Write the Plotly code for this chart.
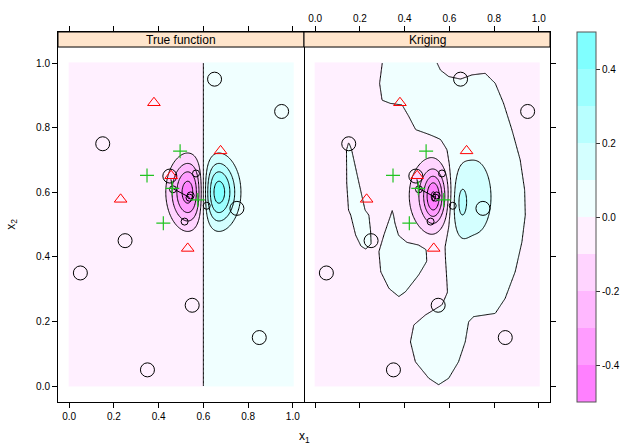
import numpy as np
import plotly.graph_objects as go

# ---------------- data ----------------
panel_titles = ["True function", "Kriging"]

axis_ticks = [0.0, 0.2, 0.4, 0.6, 0.8, 1.0]
axis_tick_text = ["0.0", "0.2", "0.4", "0.6", "0.8", "1.0"]

level_edges = [-0.5, -0.4, -0.3, -0.2, -0.1, 0.0, 0.1, 0.2, 0.3, 0.4, 0.5]
level_colors = ["#FF80FF", "#FF9CFF", "#FFB8FF", "#FFD4FF", "#FFF0FF",
                "#F0FFFF", "#D4FFFF", "#B8FFFF", "#9CFFFF", "#80FFFF"]
cbar_ticks = [-0.4, -0.2, 0.0, 0.2, 0.4]
cbar_text = ["-0.4", "-0.2", "0.0", "0.2", "0.4"]

# initial design (large circles)
design_x = [0.05, 0.15, 0.25, 0.35, 0.45, 0.55, 0.65, 0.75, 0.85, 0.95]
design_y = [0.35, 0.75, 0.45, 0.05, 0.65, 0.25, 0.95, 0.55, 0.15, 0.85]
# added points (small circles)
added_x = [0.567, 0.464, 0.538, 0.543, 0.516, 0.615]
added_y = [0.658, 0.609, 0.583, 0.590, 0.509, 0.558]
# red triangles
tri_x = [0.379, 0.677, 0.456, 0.230, 0.530]
tri_y = [0.877, 0.728, 0.651, 0.578, 0.426]
# green crosses
plus_x = [0.496, 0.348, 0.421, 0.461, 0.575]
plus_y = [0.727, 0.652, 0.504, 0.612, 0.576]
# path
path_x = [0.455, 0.462, 0.538]
path_y = [0.640, 0.612, 0.584]

# true function: odd bump around the line x1 = 0.6
true_x0, true_y0 = 0.6, 0.6
true_width = 0.07
true_peak = 0.45

# kriging predictor: bumps
krig_bump_x = [0.531, 0.515, 0.652, 0.710]
krig_bump_y = [0.586, 0.590, 0.568, 0.585]
krig_bump_amp = [-0.30, -0.20, 0.13, 0.11]
krig_bump_sx = [0.030, 0.065, 0.025, 0.080]
krig_bump_sy = [0.050, 0.075, 0.060, 0.120]
krig_background = 0.03
# outlines of the regions where the kriging predictor is slightly positive
krig_main_x = [0.300, 0.300, 0.288, 0.299, 0.336, 0.389, 0.419, 0.449, 0.508, 0.560,
               0.589, 0.597, 0.603, 0.595, 0.581, 0.588, 0.592, 0.567, 0.493, 0.441,
               0.426, 0.448, 0.508, 0.552, 0.597, 0.641, 0.671, 0.686, 0.708, 0.805,
               0.849, 0.894, 0.924, 0.939, 0.936, 0.916, 0.879, 0.842, 0.805, 0.760,
               0.701, 0.650, 0.597, 0.560, 0.545, 0.540]
krig_main_y = [1.100, 1.000, 0.937, 0.885, 0.875, 0.870, 0.834, 0.793, 0.777, 0.762,
               0.731, 0.689, 0.607, 0.493, 0.431, 0.349, 0.290, 0.251, 0.220, 0.189,
               0.137, 0.075, 0.024, 0.004, 0.024, 0.075, 0.137, 0.199, 0.215, 0.225,
               0.271, 0.354, 0.446, 0.529, 0.607, 0.700, 0.793, 0.875, 0.937, 0.968,
               0.963, 0.950, 0.958, 0.978, 1.000, 1.100]
krig_finger_x = [0.150, 0.163, 0.196, 0.223, 0.240, 0.248, 0.250, 0.226, 0.205, 0.181,
                 0.159, 0.149, 0.141, 0.140]
krig_finger_y = [0.755, 0.731, 0.628, 0.545, 0.529, 0.478, 0.440, 0.424, 0.433, 0.467,
                 0.529, 0.545, 0.628, 0.731]
krig_island_x = [0.344, 0.352, 0.358, 0.374, 0.411, 0.463, 0.500, 0.500, 0.463, 0.404,
                 0.374, 0.330, 0.293, 0.285, 0.307, 0.337]
krig_island_y = [0.548, 0.529, 0.505, 0.467, 0.447, 0.442, 0.426, 0.386, 0.344, 0.292,
                 0.277, 0.302, 0.354, 0.416, 0.467, 0.529]

# ---------------- surfaces ----------------
n = 251
gx = np.linspace(0, 1, n) + 0.5 / 997.0
gx[0], gx[-1] = 0.0, 1.0
gy = gx.copy()
PX, PY = np.meshgrid(gx, gy)

u = (PX - true_x0) / true_width
v = (PY - true_y0) / true_width
z_true = true_peak / np.exp(-0.5) * u * np.exp(-(u ** 2 + v ** 2) / 2)


def signed_dist(px, py, polys):
    inside = np.zeros(px.shape, bool)
    dmin = np.full(px.shape, np.inf)
    for xs, ys in polys:
        m = len(xs)
        for i in range(m):
            x1, y1 = xs[i], ys[i]
            x2, y2 = xs[(i + 1) % m], ys[(i + 1) % m]
            dx, dy = x2 - x1, y2 - y1
            L2 = dx * dx + dy * dy
            t = np.clip(((px - x1) * dx + (py - y1) * dy) / L2, 0, 1)
            d = np.hypot(px - (x1 + t * dx), py - (y1 + t * dy))
            dmin = np.minimum(dmin, d)
            if y1 != y2:
                cond = (y1 > py) != (y2 > py)
                xint = x1 + (py - y1) * dx / dy
                inside ^= cond & (px < xint)
    return np.where(inside, dmin, -dmin)


sd = signed_dist(PX, PY, [(krig_main_x, krig_main_y),
                          (krig_finger_x, krig_finger_y),
                          (krig_island_x, krig_island_y)])
z_krig = krig_background * np.tanh(sd / 0.008)
for bx, by, ba, sx, sy in zip(krig_bump_x, krig_bump_y, krig_bump_amp, krig_bump_sx, krig_bump_sy):
    z_krig = z_krig + ba * np.exp(-((PX - bx) ** 2 / (2 * sx ** 2) + (PY - by) ** 2 / (2 * sy ** 2)))

# stepped colorscale
zmin, zmax = level_edges[0], level_edges[-1]
cs = []
for i, c in enumerate(level_colors):
    cs.append([(level_edges[i] - zmin) / (zmax - zmin), c])
    cs.append([(level_edges[i + 1] - zmin) / (zmax - zmin), c])

line_groups = [(-0.5, -0.1), (0.0, 0.0), (0.1, 0.5)]

fig = go.Figure()
for k, z in enumerate([z_true, z_krig]):
    xa = "x" if k == 0 else "x2"
    ya = "y" if k == 0 else "y2"
    fig.add_trace(go.Heatmap(
        x=gx, y=gy, z=z, xaxis=xa, yaxis=ya, colorscale=cs, zmin=zmin, zmax=zmax,
        zsmooth="best", hoverinfo="skip", showscale=(k == 1),
        colorbar=dict(x=1.0545, xanchor="left", xpad=0, y=0.5, yanchor="middle",
                      len=1.0, lenmode="fraction", ypad=0, thickness=19,
                      outlinewidth=1, outlinecolor="#555555", ticks="outside",
                      ticklen=4, tickcolor="#333333", tickvals=cbar_ticks,
                      ticktext=cbar_text, tickfont=dict(size=10))))
    for lo, hi in line_groups:
        fig.add_trace(go.Contour(
            x=gx, y=gy, z=z, xaxis=xa, yaxis=ya, showscale=False, hoverinfo="skip",
            contours=dict(coloring="none", start=lo, end=hi, size=0.1),
            line=dict(color="black", width=1, smoothing=1)))
    fig.add_trace(go.Scatter(x=path_x, y=path_y, xaxis=xa, yaxis=ya, mode="lines",
                             line=dict(color="black", width=1), hoverinfo="skip"))
    fig.add_trace(go.Scatter(x=design_x, y=design_y, xaxis=xa, yaxis=ya, mode="markers",
                             marker=dict(symbol="circle-open", size=14, color="black",
                                         line=dict(width=1)), hoverinfo="skip"))
    fig.add_trace(go.Scatter(x=added_x, y=added_y, xaxis=xa, yaxis=ya, mode="markers",
                             marker=dict(symbol="circle-open", size=7, color="black",
                                         line=dict(width=1)), hoverinfo="skip"))
    fig.add_trace(go.Scatter(x=tri_x, y=tri_y, xaxis=xa, yaxis=ya, mode="markers",
                             marker=dict(symbol="triangle-up-open", size=11, color="#FF0000",
                                         line=dict(width=1)), hoverinfo="skip"))
    fig.add_trace(go.Scatter(x=plus_x, y=plus_y, xaxis=xa, yaxis=ya, mode="markers",
                             marker=dict(symbol="cross-thin-open", size=10, color="#22C322",
                                         line=dict(width=1.2, color="#22C322")),
                             hoverinfo="skip"))

yr = [-0.0495, 1.096]
strip_y0, strip_y1 = 1.0495, 1.096
axis_common = dict(range=[-0.05, 1.05], tickvals=axis_ticks, ticktext=axis_tick_text,
                   ticks="outside", ticklen=5, tickcolor="black", showline=True,
                   linecolor="black", linewidth=1, mirror="ticks", showgrid=False,
                   zeroline=False, tickfont=dict(size=10))
yaxis_common = dict(range=yr, tickvals=axis_ticks, ticktext=axis_tick_text,
                    ticks="outside", ticklen=5, tickcolor="black", showline=True,
                    linecolor="black", linewidth=1, showgrid=False,
                    zeroline=False, tickfont=dict(size=10))

fig.update_layout(
    width=632, height=446,
    margin=dict(l=58, r=79, t=32, b=44),
    paper_bgcolor="white", plot_bgcolor="white", showlegend=False,
    font=dict(family="Liberation Sans, Arial, sans-serif", size=10, color="black"),
    xaxis=dict(domain=[0, 0.5], anchor="y", side="bottom", **axis_common),
    xaxis2=dict(domain=[0.5, 1], anchor="y2", side="top", **axis_common),
    yaxis=dict(domain=[0, 1], anchor="x", side="left", mirror=True, **yaxis_common),
    yaxis2=dict(domain=[0, 1], anchor="x2", side="right", mirror=False,
                showticklabels=False, **yaxis_common),
)

for k, (xr, yrf) in enumerate([("x domain", "y"), ("x2 domain", "y2")]):
    fig.add_shape(type="rect", xref=xr, yref=yrf, x0=0, x1=1, y0=strip_y0, y1=strip_y1,
                  fillcolor="#FFE5CC", line=dict(color="black", width=1), layer="above")
    fig.add_annotation(xref=xr, yref=yrf, x=0.5, y=(strip_y0 + strip_y1) / 2,
                       text=panel_titles[k], showarrow=False, font=dict(size=12),
                       yanchor="middle")

fig.add_annotation(xref="paper", yref="paper", x=0.5, y=-0.0946, text="x<sub>1</sub>",
                   showarrow=False, font=dict(size=12), yanchor="middle")
fig.add_annotation(xref="paper", yref="paper", x=-0.093, y=0.48, text="x<sub>2</sub>",
                   showarrow=False, font=dict(size=12), textangle=-90, xanchor="center")

fig.write_html("out.html")
